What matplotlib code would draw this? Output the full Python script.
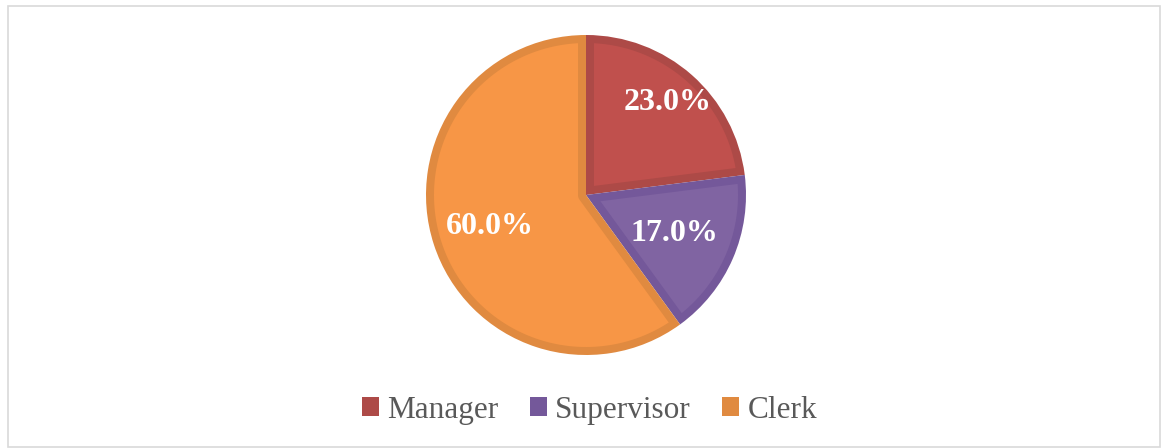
import matplotlib.pyplot as plt
from matplotlib.patches import Patch, Rectangle, Polygon
import numpy as np

labels = ['Manager', 'Supervisor', 'Clerk']
shares = [23.0, 17.0, 60.0]
colors = ['#C0504D', '#8064A2', '#F79646']
edges = ['#AD4A47', '#74589A', '#E08A40']
label_dist = [0.77, 0.60, 0.63]

plt.rcParams['font.family'] = ['Liberation Serif', 'DejaVu Serif']


def inset_shape(th1, th2, t):
    # slice shrunk by t from every side, so the darker rim sits inside
    a1, a2 = np.deg2rad(th1), np.deg2rad(th2)
    dl = np.arcsin(t / (1 - t))
    phi = np.linspace(a1 + dl, a2 - dl, 200)
    pts = list(zip((1 - t) * np.cos(phi), (1 - t) * np.sin(phi)))
    span = a2 - a1
    if span < np.pi:
        b = (a1 + a2) / 2
        dd = t / np.sin(span / 2)
        pts.append((dd * np.cos(b), dd * np.sin(b)))
    else:
        psi = np.linspace(a2 - np.pi / 2, a1 + np.pi / 2, 30)
        pts += list(zip(t * np.cos(psi), t * np.sin(psi)))
    return np.array(pts)


fig = plt.figure(figsize=(11.65, 4.48), dpi=100)
fig.patches.append(Rectangle((8 / 1165, 0.002), 1152 / 1165, 441 / 448, transform=fig.transFigure,
                             facecolor='none', edgecolor='#D9D9D9', linewidth=1.2))

cx, cy, r = 586, 195, 160
ax = fig.add_axes([(cx - r) / 1165, (448 - cy - r) / 448, 2 * r / 1165, 2 * r / 448])
wedges, _ = ax.pie(shares, colors=edges, startangle=90, counterclock=False, radius=1,
                   wedgeprops=dict(linewidth=0))
for w, c in zip(wedges, colors):
    ax.add_patch(Polygon(inset_shape(w.theta1, w.theta2, 0.05), closed=True,
                         facecolor=c, edgecolor='none'))
ax.set_xlim(-1, 1)
ax.set_ylim(-1, 1)
ax.set_aspect('equal')
ax.axis('off')

for w, s, d in zip(wedges, shares, label_dist):
    ang = np.deg2rad((w.theta1 + w.theta2) / 2)
    ax.text(d * np.cos(ang), d * np.sin(ang), f'{s:.1f}%', ha='center', va='center',
            color='white', fontsize=23, fontweight='bold')

handles = [Patch(facecolor=e, edgecolor='none') for e in edges]
fig.legend(handles, labels, loc='center', bbox_to_anchor=(0.5 + 7 / 1165, 1 - 410 / 448), ncol=3,
           frameon=False, fontsize=22.5, labelcolor='#595959', handlelength=0.55, handleheight=0.55,
           handletextpad=0.26, columnspacing=1.0)

fig.savefig('out.png', dpi=100)
